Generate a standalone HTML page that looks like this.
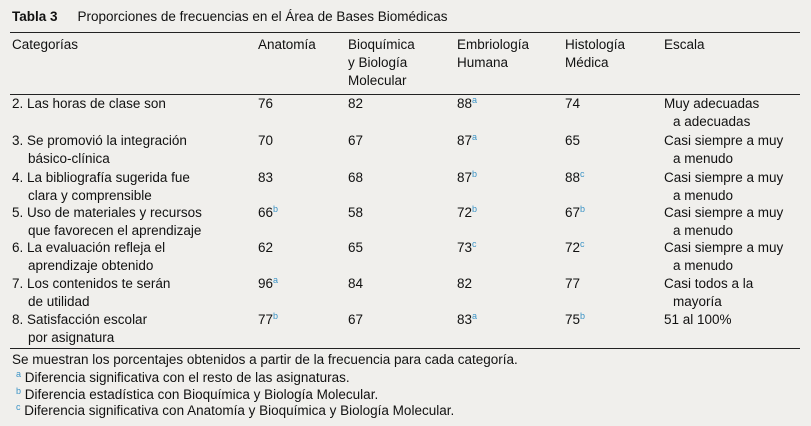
<!DOCTYPE html>
<html><head><meta charset="utf-8">
<style>
body{margin:0;width:811px;height:426px;background:#f0efec;overflow:hidden;font-family:"Liberation Sans","DejaVu Sans",sans-serif;font-size:13.5px;color:#111;position:relative}
.t{position:absolute;line-height:18px;white-space:nowrap}
.l{position:absolute;left:10px;width:790px;height:1px;background:#222}
sup{color:#3d94c6;font-size:9px;vertical-align:5px;line-height:0}
</style></head><body>
<div class="t" style="left:12px;top:8px"><b>Tabla 3</b><span style="padding-left:20px">Proporciones de frecuencias en el Área de Bases Biomédicas</span></div>
<div class="l" style="top:32px"></div>
<div class="t" style="left:12px;top:36px">Categorías</div>
<div class="t" style="left:258px;top:36px">Anatomía</div>
<div class="t" style="left:348px;top:36px">Bioquímica<br>y Biología<br>Molecular</div>
<div class="t" style="left:457px;top:36px">Embriología<br>Humana</div>
<div class="t" style="left:565px;top:36px">Histología<br>Médica</div>
<div class="t" style="left:664px;top:36px">Escala</div>
<div class="l" style="top:94px"></div>
<div id="rows"></div>
<div class="l" style="top:348px"></div>
<div class="t" style="left:12px;top:351px">Se muestran los porcentajes obtenidos a partir de la frecuencia para cada categoría.</div>
<div class="t" style="left:16px;top:369px"><sup>a</sup> Diferencia significativa con el resto de las asignaturas.</div>
<div class="t" style="left:16px;top:386px"><sup>b</sup> Diferencia estadística con Bioquímica y Biología Molecular.</div>
<div class="t" style="left:16px;top:402px"><sup>c</sup> Diferencia significativa con Anatomía y Bioquímica y Biología Molecular.</div>
<script>
const cats=[["2. Las horas de clase son"],["3. Se promovió la integración","básico-clínica"],["4. La bibliografía sugerida fue","clara y comprensible"],["5. Uso de materiales y recursos","que favorecen el aprendizaje"],["6. La evaluación refleja el","aprendizaje obtenido"],["7. Los contenidos te serán","de utilidad"],["8. Satisfacción escolar","por asignatura"]];
const anat=["76","70","83","66b","62","96a","77b"];
const bioq=["82","67","68","58","65","84","67"];
const embr=["88a","87a","87b","72b","73c","82","83a"];
const hist=["74","65","88c","67b","72c","77","75b"];
const esc=[["Muy adecuadas","a adecuadas"],["Casi siempre a muy","a menudo"],["Casi siempre a muy","a menudo"],["Casi siempre a muy","a menudo"],["Casi siempre a muy","a menudo"],["Casi todos a la","mayoría"],["51 al 100%"]];
const tops=[95,132,169,204,239,275,311];
const root=document.getElementById('rows');
function val(v){const m=v.match(/^(\d+)([a-c]?)$/);return m[1]+(m[2]?'<sup>'+m[2]+'</sup>':'');}
function add(x,y,html,name){const d=document.createElement('div');d.className='t';d.style.left=x+'px';d.style.top=y+'px';d.innerHTML=html;


root.appendChild(d);}
cats.forEach((c,i)=>{const y=tops[i];
add(12,y,c[0]+(c[1]?'<br><span style="padding-left:16px">'+c[1]+'</span>':''),'category-label');
add(258,y,val(anat[i]),'anatomia-value');
add(348,y,val(bioq[i]),'bioquimica-value');
add(457,y,val(embr[i]),'embriologia-value');
add(565,y,val(hist[i]),'histologia-value');
add(664,y,esc[i][0]+(esc[i][1]?'<br><span style="padding-left:9px">'+esc[i][1]+'</span>':''),'escala-value');});
</script>
</body></html>
